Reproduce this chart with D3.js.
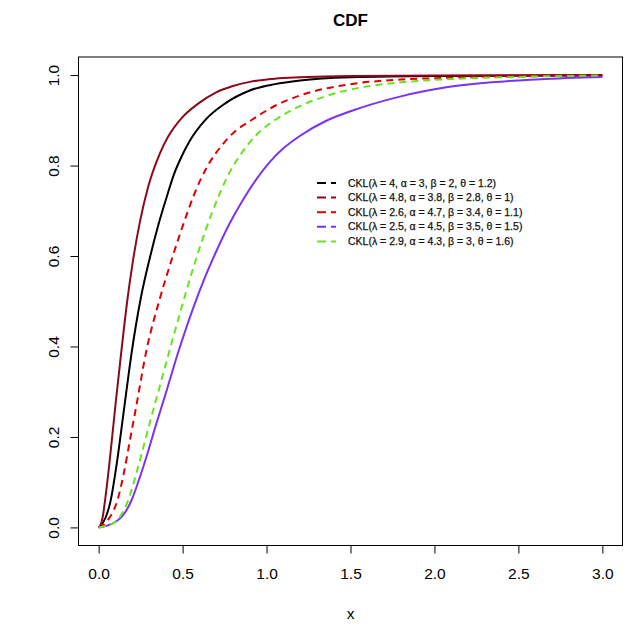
<!DOCTYPE html>
<html>
<head>
<meta charset="utf-8">
<script src="https://cdn.jsdelivr.net/npm/d3@7"></script>
<style>
  body { margin: 0; background: #fff; }
  svg { font-family: "Liberation Sans", Arial, sans-serif; }
</style>
</head>
<body>
<svg id="chart" width="640" height="630"></svg>
<script>
// values
const xTicks = [0, 0.5, 1, 1.5, 2, 2.5, 3];
const yTicks = [0, 0.2, 0.4, 0.6, 0.8, 1];

const blackX = [0, 0.012, 0.043, 0.072, 0.105, 0.156, 0.196, 0.25, 0.305, 0.355, 0.405, 0.45, 0.494, 0.543, 0.633, 0.752, 0.90, 1.05, 1.2, 1.5, 2.0, 3.0];
const blackY = [0, 0.004, 0.023, 0.060, 0.134, 0.275, 0.385, 0.505, 0.596, 0.668, 0.730, 0.782, 0.820, 0.855, 0.900, 0.937, 0.966, 0.980, 0.988, 0.995, 0.998, 0.999];

const darkredX = [0, 0.01, 0.024, 0.04, 0.065, 0.103, 0.136, 0.17, 0.205, 0.246, 0.295, 0.365, 0.414, 0.494, 0.593, 0.70, 0.80, 0.90, 1.05, 1.2, 1.5, 2.0, 3.0];
const darkredY = [0, 0.004, 0.023, 0.065, 0.145, 0.281, 0.392, 0.500, 0.591, 0.676, 0.753, 0.827, 0.864, 0.905, 0.937, 0.962, 0.976, 0.985, 0.992, 0.995, 0.998, 0.999, 1.0];

const redX = [0, 0.02, 0.067, 0.112, 0.150, 0.19, 0.225, 0.285, 0.36, 0.434, 0.504, 0.573, 0.65, 0.73, 0.81, 0.90, 1.04, 1.2, 1.5, 1.8, 2.1, 2.5, 3.0];
const redY = [0, 0.004, 0.023, 0.060, 0.120, 0.200, 0.270, 0.392, 0.500, 0.591, 0.670, 0.740, 0.800, 0.843, 0.875, 0.898, 0.930, 0.955, 0.980, 0.990, 0.994, 0.997, 0.999];

const purpleX = [0, 0.05, 0.10, 0.146, 0.196, 0.24, 0.288, 0.34, 0.393, 0.472, 0.563, 0.63, 0.70, 0.78, 0.861, 0.94, 1.02, 1.1, 1.2, 1.35, 1.5, 1.8, 2.09, 2.63, 3.0];
const purpleY = [0, 0.004, 0.012, 0.027, 0.060, 0.105, 0.160, 0.225, 0.288, 0.385, 0.485, 0.550, 0.610, 0.672, 0.725, 0.770, 0.808, 0.838, 0.866, 0.898, 0.920, 0.953, 0.974, 0.991, 0.996];

const greenX = [0, 0.04, 0.09, 0.126, 0.176, 0.225, 0.261, 0.30, 0.344, 0.423, 0.49, 0.573, 0.64, 0.712, 0.78, 0.841, 0.94, 1.06, 1.19, 1.35, 1.5, 1.8, 2.03, 2.5, 3.0];
const greenY = [0, 0.003, 0.010, 0.023, 0.060, 0.120, 0.170, 0.225, 0.285, 0.392, 0.481, 0.585, 0.660, 0.730, 0.785, 0.822, 0.868, 0.903, 0.930, 0.953, 0.968, 0.984, 0.990, 0.996, 0.999];

const seriesNames = [
  "CKL(\u03bb = 4, \u03b1 = 3, \u03b2 = 2, \u03b8 = 1.2)",
  "CKL(\u03bb = 4.8, \u03b1 = 3.8, \u03b2 = 2.8, \u03b8 = 1)",
  "CKL(\u03bb = 2.6, \u03b1 = 4.7, \u03b2 = 3.4, \u03b8 = 1.1)",
  "CKL(\u03bb = 2.5, \u03b1 = 4.5, \u03b2 = 3.5, \u03b8 = 1.5)",
  "CKL(\u03bb = 2.9, \u03b1 = 4.3, \u03b2 = 3, \u03b8 = 1.6)"
];

const series = [
  { name: seriesNames[0], xs: blackX, ys: blackY, color: "#000000", dash: null },
  { name: seriesNames[1], xs: darkredX, ys: darkredY, color: "#8b0a1a", dash: null },
  { name: seriesNames[2], xs: redX, ys: redY, color: "#e00000", dash: "7,5" },
  { name: seriesNames[3], xs: purpleX, ys: purpleY, color: "#7a33f5", dash: null },
  { name: seriesNames[4], xs: greenX, ys: greenY, color: "#66e61a", dash: "7,5" }
];

const svg = d3.select("#chart");
const plot = { left: 78.5, right: 622.5, top: 57, bottom: 545.5 };

// R style: 4% padding on both axes
const x = d3.scaleLinear().domain([-0.12, 3.12]).range([plot.left, plot.right]);
const y = d3.scaleLinear().domain([-0.04, 1.04]).range([plot.bottom, plot.top]);

const line = d3.line()
  .x(d => x(d[0]))
  .y(d => y(d[1]))
  .curve(d3.curveMonotoneX);

// curves
svg.append("g")
  .selectAll("path")
  .data(series)
  .enter().append("path")
  .attr("fill", "none")
  .attr("stroke", d => d.color)
  .attr("stroke-width", 2)
  .attr("stroke-dasharray", d => d.dash)
  .attr("d", d => line(d.xs.map((v, i) => [v, d.ys[i]])));

// frame
svg.append("rect")
  .attr("x", plot.left).attr("y", plot.top)
  .attr("width", plot.right - plot.left).attr("height", plot.bottom - plot.top)
  .attr("fill", "none").attr("stroke", "#000").attr("stroke-width", 1);

// axes
const xAxis = svg.append("g")
  .attr("transform", `translate(0,${plot.bottom})`)
  .call(d3.axisBottom(x).tickValues(xTicks).tickSize(8).tickPadding(14).tickFormat(d3.format(".1f")));
xAxis.select(".domain").remove();
xAxis.selectAll("text").attr("font-size", 15.5).attr("fill", "#000").attr("font-family", "Liberation Sans, Arial, sans-serif");

const yAxis = svg.append("g")
  .attr("transform", `translate(${plot.left},0)`)
  .call(d3.axisLeft(y).tickValues(yTicks).tickSize(8).tickFormat(d3.format(".1f")));
yAxis.select(".domain").remove();
yAxis.selectAll("text")
  .attr("font-size", 15.5).attr("fill", "#000")
  .attr("font-family", "Liberation Sans, Arial, sans-serif")
  .attr("text-anchor", "middle")
  .attr("x", null).attr("dy", null)
  .attr("transform", "translate(-25,0) rotate(-90)")
  .attr("y", 5.5);

// titles
svg.append("text")
  .attr("x", (plot.left + plot.right) / 2).attr("y", 26)
  .attr("text-anchor", "middle")
  .attr("font-size", 17).attr("font-weight", "bold")
  .text("CDF");

svg.append("text")
  .attr("x", (plot.left + plot.right) / 2).attr("y", 619)
  .attr("text-anchor", "middle")
  .attr("font-size", 15.5)
  .text("x");

// legend
const legend = svg.append("g").attr("transform", "translate(317,183)");
const row = legend.selectAll("g")
  .data(series)
  .enter().append("g")
  .attr("transform", (d, i) => `translate(0,${i * 14.6})`);
row.append("line")
  .attr("x1", 0).attr("x2", 19).attr("y1", 0).attr("y2", 0)
  .attr("stroke", d => d.color)
  .attr("stroke-width", 2)
  .attr("stroke-dasharray", "9,5");
row.append("text")
  .attr("x", 31).attr("y", 0).attr("dy", "0.35em")
  .attr("font-size", 10.5)
  .attr("fill", "#111")
  .attr("stroke", "#111").attr("stroke-width", 0.25)
  .text(d => d.name);
</script>
</body>
</html>
